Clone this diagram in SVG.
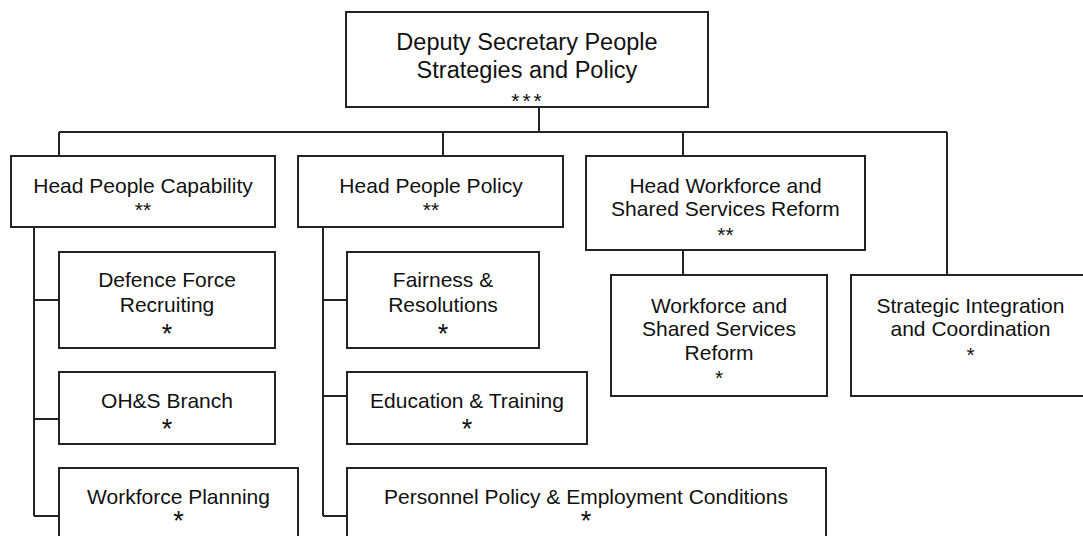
<svg xmlns="http://www.w3.org/2000/svg" width="1083" height="536" viewBox="0 0 1083 536">
<style>
.box{fill:#fff;stroke:#222;stroke-width:2}
.ln{fill:none;stroke:#222;stroke-width:2}
text{font-family:"Liberation Sans",Arial,sans-serif;fill:#111;text-anchor:middle}
.t{font-size:21px}
.tt{font-size:23.5px}
.s{font-size:21px}
.big{font-size:27px}
</style>
<rect width="1083" height="536" fill="#fff"/>
<g id="connectors">
<path class="ln" d="M539 107V132M59 132H947M59 132V156M443 132V156M683 132V156M947 132V275"/>
<path class="ln" d="M34 227V516M34 300H59M34 419H59M34 516H59"/>
<path class="ln" d="M323 227V516M323 300H347M323 396H347M323 516H347"/>
<path class="ln" d="M683 250V275"/>
</g>
<g id="deputy">
<rect class="box" x="346" y="12" width="362" height="95"/>
<text class="tt" x="527" y="50">Deputy Secretary People</text>
<text class="tt" x="527" y="78">Strategies and Policy</text>
<text class="s" x="528" y="108" letter-spacing="3">***</text>
</g>
<g id="head-capability">
<rect class="box" x="11" y="156" width="264" height="71"/>
<text class="t" x="143" y="193">Head People Capability</text>
<text class="s" x="143" y="217">**</text>
</g>
<g id="head-policy">
<rect class="box" x="298" y="156" width="265" height="71"/>
<text class="t" x="431" y="193">Head People Policy</text>
<text class="s" x="431" y="217">**</text>
</g>
<g id="head-workforce">
<rect class="box" x="586" y="156" width="279" height="94"/>
<text class="t" x="725.5" y="193">Head Workforce and</text>
<text class="t" x="725.5" y="216">Shared Services Reform</text>
<text class="s" x="725.5" y="242">**</text>
</g>
<g id="strategic">
<rect class="box" x="851" y="275" width="240" height="121"/>
<text class="t" x="970.5" y="313">Strategic Integration</text>
<text class="t" x="970.5" y="336">and Coordination</text>
<text class="s" x="970.5" y="362">*</text>
</g>
<g id="wssr">
<rect class="box" x="611" y="275" width="216" height="121"/>
<text class="t" x="719" y="313">Workforce and</text>
<text class="t" x="719" y="336">Shared Services</text>
<text class="t" x="719" y="360">Reform</text>
<text class="s" x="719" y="385">*</text>
</g>
<g id="defence-recruiting">
<rect class="box" x="59" y="252" width="216" height="96"/>
<text class="t" x="167" y="287">Defence Force</text>
<text class="t" x="167" y="312">Recruiting</text>
<text class="big" x="167" y="343">*</text>
</g>
<g id="ohs">
<rect class="box" x="59" y="372" width="216" height="72"/>
<text class="t" x="167" y="408">OH&amp;S Branch</text>
<text class="big" x="167" y="438">*</text>
</g>
<g id="workforce-planning">
<rect class="box" x="59" y="468" width="239" height="80"/>
<text class="t" x="178.5" y="504">Workforce Planning</text>
<text class="big" x="178.5" y="530">*</text>
</g>
<g id="fairness">
<rect class="box" x="347" y="252" width="192" height="96"/>
<text class="t" x="443" y="287">Fairness &amp;</text>
<text class="t" x="443" y="312">Resolutions</text>
<text class="big" x="443" y="343">*</text>
</g>
<g id="education">
<rect class="box" x="347" y="372" width="240" height="72"/>
<text class="t" x="467" y="408">Education &amp; Training</text>
<text class="big" x="467" y="438">*</text>
</g>
<g id="personnel">
<rect class="box" x="347" y="468" width="479" height="80"/>
<text class="t" x="586" y="504">Personnel Policy &amp; Employment Conditions</text>
<text class="big" x="586" y="530">*</text>
</g>
</svg>
